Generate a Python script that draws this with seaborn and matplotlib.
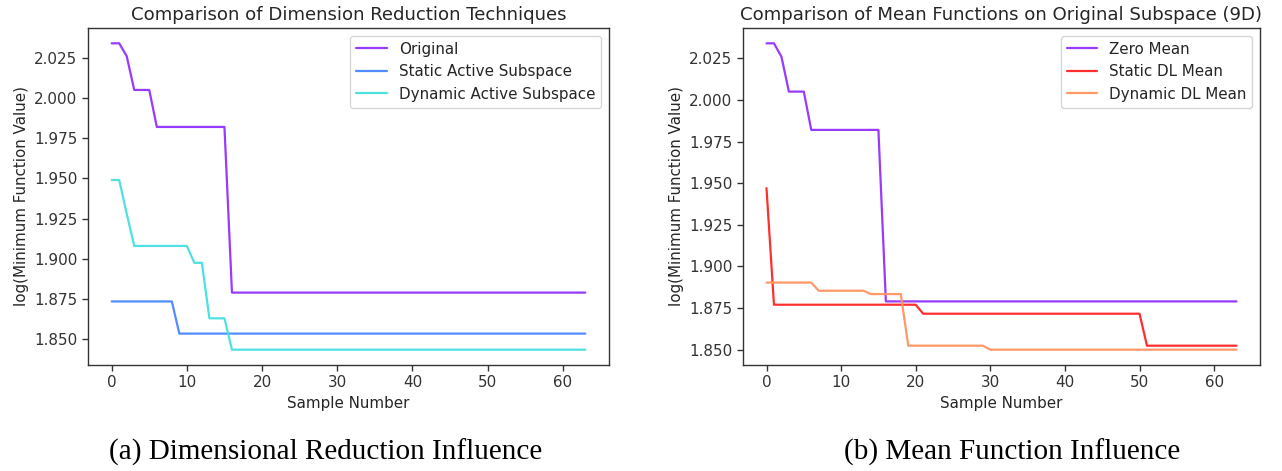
import numpy as np
import pandas as pd
import matplotlib
matplotlib.use("Agg")
import matplotlib.pyplot as plt
import seaborn as sns

# ---------------- data ----------------
samples = list(range(64))

def steps(pairs, n=64):
    """pairs: list of (start_index, value); value holds until next start."""
    out = []
    for i, (s, v) in enumerate(pairs):
        e = pairs[i + 1][0] if i + 1 < len(pairs) else n
        out += [v] * (e - s)
    return out

original = steps([(0, 2.034), (2, 2.026), (3, 2.005), (6, 1.982), (16, 1.879)])
static_as = steps([(0, 1.8735), (9, 1.8535)])
dynamic_as = steps([(0, 1.949), (2, 1.928), (3, 1.908), (11, 1.8975), (13, 1.863), (16, 1.8435)])

zero_mean = steps([(0, 2.034), (2, 2.026), (3, 2.005), (6, 1.982), (16, 1.879)])
static_dl = steps([(0, 1.947), (1, 1.877), (21, 1.8716), (51, 1.8524)])
dynamic_dl = steps([(0, 1.8903), (7, 1.8854), (14, 1.8834), (19, 1.8524), (30, 1.8500)])

left_names = ["Original", "Static Active Subspace", "Dynamic Active Subspace"]
right_names = ["Zero Mean", "Static DL Mean", "Dynamic DL Mean"]
left_colors = ["#9130ff", "#4a86ff", "#45e0e0"]
right_colors = ["#9130ff", "#ff2424", "#ff9460"]

titles = ["Comparison of Dimension Reduction Techniques",
          "Comparison of Mean Functions on Original Subspace (9D)"]
captions = ["(a) Dimensional Reduction Influence", "(b) Mean Function Influence"]
xlabel = "Sample Number"
ylabel = "log(Minimum Function Value)"

# ---------------- style ----------------
sns.set_style("ticks")
plt.rcParams["font.family"] = ["DejaVu Sans"]
plt.rcParams["font.size"] = 10.9
plt.rcParams["axes.titlesize"] = 13.1
plt.rcParams["axes.labelsize"] = 10.9
plt.rcParams["xtick.labelsize"] = 10.9
plt.rcParams["ytick.labelsize"] = 10.9
plt.rcParams["legend.fontsize"] = 10.9
plt.rcParams["axes.edgecolor"] = "#333333"
plt.rcParams["text.color"] = "#262626"
plt.rcParams["axes.labelcolor"] = "#262626"
plt.rcParams["xtick.color"] = "#333333"
plt.rcParams["ytick.color"] = "#333333"

W, H = 1282, 471
fig = plt.figure(figsize=(W / 100, H / 100), dpi=100)

def make_df(names, series):
    frames = []
    for nm, vals in zip(names, series):
        frames.append(pd.DataFrame({"Sample": samples, "Value": vals, "Series": nm}))
    return pd.concat(frames, ignore_index=True)

panels = [
    (make_df(left_names, [original, static_as, dynamic_as]), left_names, left_colors,
     [88, 609]),
    (make_df(right_names, [zero_mean, static_dl, dynamic_dl]), right_names, right_colors,
     [743, 1260]),
]

top_px, bot_px = 28, 365
for k, (df, names, colors, (x0, x1)) in enumerate(panels):
    ax = fig.add_axes([x0 / W, 1 - bot_px / H, (x1 - x0) / W, (bot_px - top_px) / H])
    sns.lineplot(data=df, x="Sample", y="Value", hue="Series", hue_order=names,
                 palette=colors, linewidth=1.6, ax=ax, alpha=0.95)
    ax.set_title(titles[k])
    ax.set_xlabel(xlabel)
    ax.set_ylabel(ylabel)
    ax.set_xticks([0, 10, 20, 30, 40, 50, 60])
    ax.yaxis.set_major_formatter(matplotlib.ticker.FormatStrFormatter("%.3f"))
    ax.set_yticks([1.850, 1.875, 1.900, 1.925, 1.950, 1.975, 2.000, 2.025])
    for sp in ax.spines.values():
        sp.set_linewidth(1.0)
    ax.tick_params(length=4, width=1)
    leg = ax.legend(loc="upper right", frameon=True, handlelength=2.0)
    leg.get_frame().set_edgecolor("#cccccc")
    leg.set_title(None)

    cx = (x0 + x1) / 2 / W
    fig.text(cx - 0.018 if k == 0 else cx + 0.008, 1 - 452 / H, captions[k],
             ha="center", va="center", fontsize=21,
             family=["Liberation Serif", "DejaVu Serif"], color="black")

fig.savefig("out.png", dpi=100)
